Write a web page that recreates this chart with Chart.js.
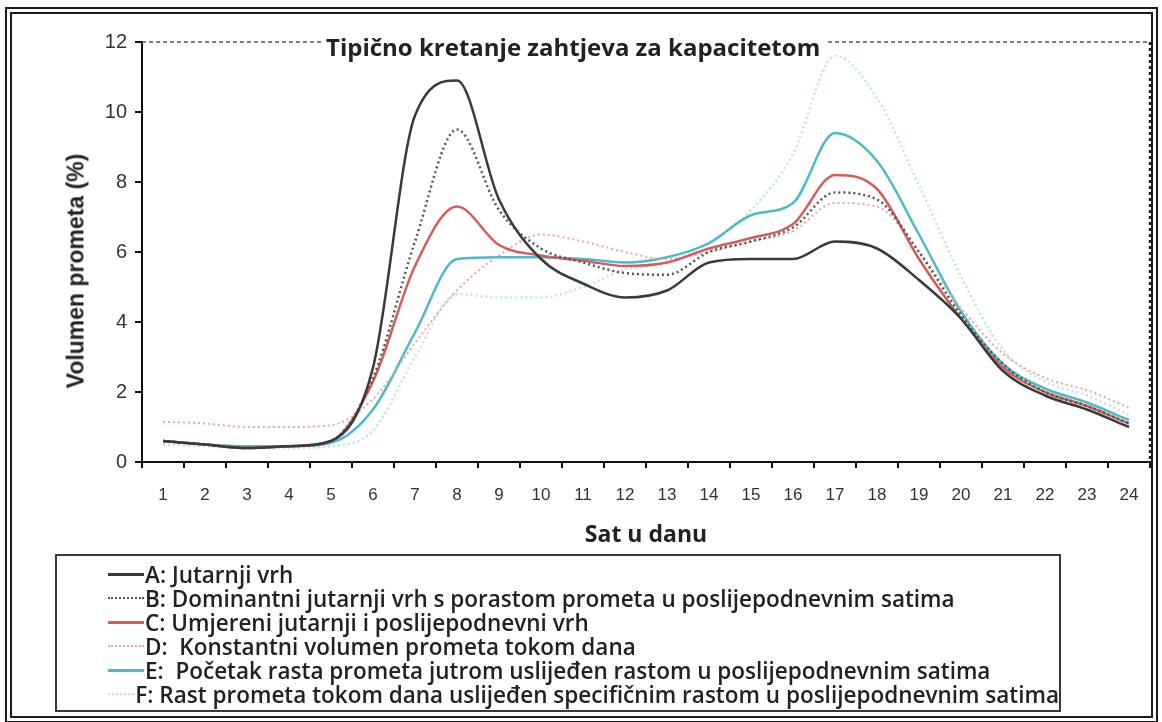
<!DOCTYPE html>
<html>
<head>
<meta charset="utf-8">
<script src="https://cdn.jsdelivr.net/npm/chart.js@4.4.0/dist/chart.umd.min.js"></script>
<style>
body{margin:0;background:#fff;width:1162px;height:722px;position:relative;overflow:hidden;font-family:"Open Sans",sans-serif;color:#222;}
#chart{position:absolute;left:0;top:0;}
#frame{position:absolute;left:5px;top:7px;width:1153px;height:716px;border:7px double #1c1c1c;box-sizing:border-box;pointer-events:none;}
#title{position:absolute;left:321px;top:32px;padding:0 5px;background:#fff;font-weight:700;font-size:24px;line-height:30px;white-space:nowrap;}
#ytitle{position:absolute;left:76px;top:271px;transform:translate(-50%,-50%) rotate(-90deg);font-family:"Liberation Sans",sans-serif;font-weight:700;font-size:23px;white-space:nowrap;}
#legend{position:absolute;left:55px;top:554px;width:1006px;height:158px;border:2px solid #3a3a3a;box-sizing:border-box;padding:6px 0 0 51px;}
.row{height:24px;display:flex;align-items:center;white-space:pre;font-weight:600;font-size:22.5px;}
.sample{display:inline-block;width:36px;height:0;margin-right:1px;}
</style>
</head>
<body>
<canvas id="chart" width="1162" height="560"></canvas>
<div id="title">Tipično kretanje zahtjeva za kapacitetom</div>
<div id="ytitle">Volumen prometa (%)</div>
<div id="legend"></div>
<div id="frame"></div>
<script>
// sati u danu
const hours=['1','2','3','4','5','6','7','8','9','10','11','12','13','14','15','16','17','18','19','20','21','22','23','24'];
const yTicks=[0,2,4,6,8,10,12];

// volumen prometa (%) po satu, ocitano sa slike
const seriesA=[0.6,0.5,0.4,0.45,0.6,2.7,9.9,10.9,7.5,5.8,5.1,4.7,4.9,5.7,5.8,5.8,6.3,6.1,5.2,4.1,2.6,1.9,1.5,1.0];
const seriesB=[0.6,0.5,0.4,0.45,0.6,2.4,6.3,9.5,7.2,6.1,5.7,5.4,5.35,6.0,6.3,6.7,7.7,7.5,6.0,4.2,2.8,2.0,1.6,1.1];
const seriesC=[0.6,0.5,0.4,0.45,0.6,2.3,5.6,7.3,6.2,5.9,5.75,5.6,5.7,6.1,6.4,6.8,8.2,7.8,5.8,4.1,2.7,2.0,1.6,1.1];
const seriesD=[1.15,1.1,1.0,1.0,1.05,1.8,3.4,4.9,5.9,6.5,6.3,6.0,5.8,6.0,6.3,6.6,7.4,7.3,6.0,4.4,3.1,2.4,2.05,1.55];
const seriesE=[0.6,0.5,0.45,0.45,0.55,1.5,3.7,5.8,5.85,5.85,5.8,5.7,5.85,6.25,7.05,7.4,9.4,8.6,6.5,4.3,2.8,2.1,1.7,1.2];
const seriesF=[0.5,0.45,0.4,0.4,0.45,0.9,3.0,4.8,4.7,4.7,5.0,5.5,5.7,6.3,7.2,8.8,11.6,10.4,7.9,5.3,3.2,2.3,1.9,1.35];

const labels=[
  'A: Jutarnji vrh',
  'B: Dominantni jutarnji vrh s porastom prometa u poslijepodnevnim satima',
  'C: Umjereni jutarnji i poslijepodnevni vrh',
  'D:  Konstantni volumen prometa tokom dana',
  'E:  Početak rasta prometa jutrom uslijeđen rastom u poslijepodnevnim satima',
  'F: Rast prometa tokom dana uslijeđen specifičnim rastom u poslijepodnevnim satima'
];

const mkLine=(label,data,color,width,dotted)=>({
  label:label,
  data:data,
  borderColor:color,
  borderWidth:width,
  borderDash:dotted?[2,3]:[],
  pointRadius:0,
  fill:false,
  cubicInterpolationMode:'monotone'
});

// isprekidani okvir gore i desno
const frameLines={
  id:'frameLines',
  afterDraw(chart){
    const {ctx,chartArea:{left,right,top,bottom}}=chart;
    ctx.save();
    ctx.strokeStyle='#555';
    ctx.lineWidth=1.5;
    ctx.setLineDash([4,3]);
    ctx.beginPath();ctx.moveTo(left,top);ctx.lineTo(right,top);ctx.stroke();
    ctx.strokeStyle='#222';
    ctx.lineWidth=2.5;
    ctx.setLineDash([3,3]);
    ctx.beginPath();ctx.moveTo(right,top);ctx.lineTo(right,bottom);ctx.stroke();
    ctx.restore();
  }
};

const ctx=document.getElementById('chart').getContext('2d');
const myChart=new Chart(ctx,{
  type:'line',
  data:{
    labels:hours,
    datasets:[
      mkLine(labels[0],seriesA,'#3a3a3a',2.5,false),
      mkLine(labels[1],seriesB,'#4d5c53',2.5,true),
      mkLine(labels[2],seriesC,'#d65c5c',2.5,false),
      mkLine(labels[3],seriesD,'#eba3a3',2,true),
      mkLine(labels[4],seriesE,'#4cbac8',2.5,false),
      mkLine(labels[5],seriesF,'#b9e6ee',2.5,true)
    ]
  },
  options:{
    responsive:false,
    animation:false,
    layout:{padding:{top:42,right:12,left:0,bottom:0}},
    plugins:{legend:{display:false},tooltip:{enabled:false}},
    scales:{
      x:{
        offset:true,
        grid:{offset:true,drawOnChartArea:false,tickLength:6,color:'#111',lineWidth:2},
        border:{color:'#111',width:2},
        ticks:{padding:17,color:'#333',font:{family:'Liberation Sans',size:17},maxRotation:0,autoSkip:false},
        title:{display:true,text:'Sat u danu',color:'#222',font:{family:'Open Sans',weight:'bold',size:23},padding:{top:0,bottom:11}},
        afterFit(s){s.height=98;}
      },
      y:{
        min:0,
        max:12,
        afterBuildTicks(s){s.ticks=yTicks.map(v=>({value:v}));},
        grid:{drawOnChartArea:false,tickLength:7,color:'#111',lineWidth:2},
        border:{color:'#111',width:2},
        ticks:{padding:8,color:'#333',font:{family:'Liberation Sans',size:20}},
        afterFit(s){s.width=142;}
      }
    }
  },
  plugins:[frameLines]
});

// legenda u okviru ispod grafa
const legend=document.getElementById('legend');
myChart.data.datasets.forEach(ds=>{
  const row=document.createElement('div');
  row.className='row';
  const smp=document.createElement('span');
  smp.className='sample';
  smp.style.borderTop=(ds.borderDash.length?'2px dotted ':'3px solid ')+ds.borderColor;
  row.appendChild(smp);
  row.appendChild(document.createTextNode(ds.label));
  legend.appendChild(row);
});
</script>
</body>
</html>
